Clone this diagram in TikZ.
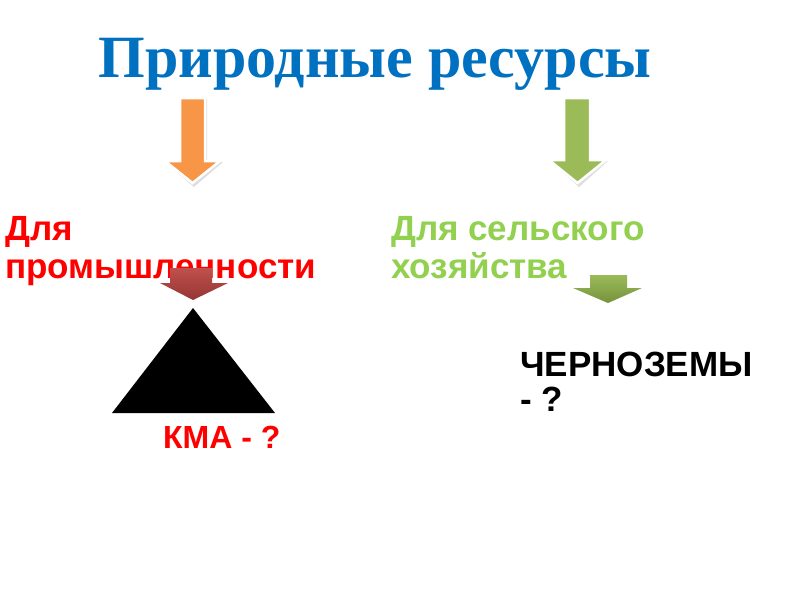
\documentclass[tikz,border=0pt]{standalone}
\usepackage{fontspec}
\setmainfont{Liberation Serif}
\newfontfamily\arialfont{Liberation Sans}
\definecolor{titleblue}{HTML}{0070C0}
\definecolor{arrorange}{HTML}{F79646}
\definecolor{arrgreen}{HTML}{9BBB59}
\definecolor{arrgreendark}{HTML}{76923C}
\definecolor{arrred}{HTML}{C0504D}
\definecolor{arrreddark}{HTML}{943634}
\definecolor{txtgreen}{HTML}{92D050}
\tikzset{
  lbl/.style={anchor=base west, inner sep=0pt, font=\arialfont\bfseries\fontsize{35}{38}\selectfont},
  bigarrow/.style={draw=white, line width=2.5pt, line join=miter},
  arrshadow/.style={fill=black, opacity=0.13},
}
\begin{document}
\begin{tikzpicture}[x=1pt,y=-1pt]
\useasboundingbox[fill=white] (0,0) rectangle (800,600);
% title
\node[anchor=base, inner sep=0pt, text=titleblue, font=\bfseries\fontsize{60}{62}\selectfont] (title) at (375,77) {Природные ресурсы};
% orange arrow
\fill[arrshadow] (181,99) -- (207,99) -- (207,162) -- (223,162) -- (194,187) -- (165,162) -- (181,162) -- cycle;
\path[bigarrow, fill=arrorange] (180,98) -- (205,98) -- (205,161) -- (220,161) -- (192.5,183) -- (165,161) -- (180,161) -- cycle;
% green arrow
\fill[arrshadow] (565,99) -- (591,99) -- (591,161) -- (608,161) -- (579,187) -- (550,161) -- (565,161) -- cycle;
\path[bigarrow, fill=arrgreen] (564,98) -- (590,98) -- (590,160) -- (606,160) -- (577.5,183) -- (549,160) -- (564,160) -- cycle;
% labels
\node[lbl, text=red] (ind1) at (5,240) {Для};
\node[lbl, text=red] (ind2) at (5,278) {промышленности};
\node[lbl, text=txtgreen] (agr1) at (391,240) {Для сельского};
\node[lbl, text=txtgreen] (agr2) at (391,278) {хозяйства};
% small red arrow
\shade[top color=arrred, bottom color=arrreddark] (170,268) -- (212,268) -- (212,283) -- (228,283) -- (193,300) -- (160,283) -- (170,283) -- cycle;
% small green arrow
\shade[top color=arrgreen, bottom color=arrgreendark] (590,275) -- (627,275) -- (627,288) -- (642,288) -- (608,303) -- (573,288) -- (590,288) -- cycle;
% triangle
\fill[black] (193,308) -- (275,413) -- (112,413) -- cycle;
% answers
\node[lbl, text=red, font=\arialfont\bfseries\fontsize{32}{36}\selectfont] (kma) at (163,448) {КМА - ?};
\node[lbl, text=black] (soil1) at (520,376) {ЧЕРНОЗЕМЫ};
\node[lbl, text=black] (soil2) at (520,411) {- ?};
\end{tikzpicture}
\end{document}
